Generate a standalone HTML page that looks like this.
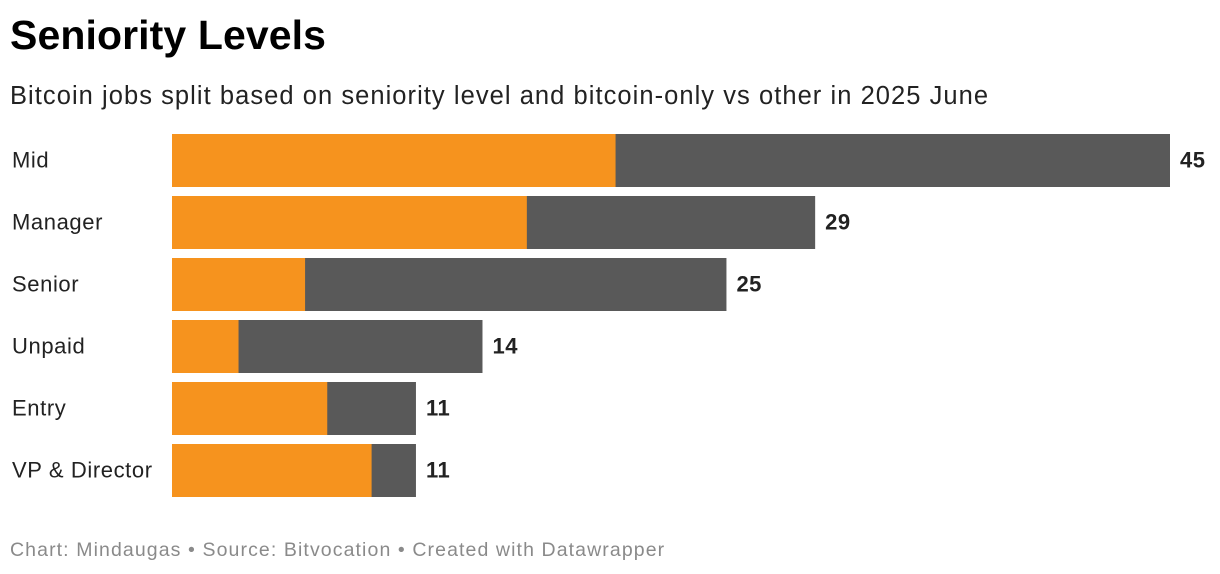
<!DOCTYPE html>
<html><head><meta charset="utf-8">
<style>
body{margin:0;width:1220px;height:574px;background:#fff;font-family:"Liberation Sans",Arial,sans-serif;overflow:hidden;position:relative}
#title{position:absolute;left:10px;top:12px;font-size:41px;font-weight:bold;color:#000;letter-spacing:0.1px}
#sub{position:absolute;left:10px;top:82px;font-size:25.5px;color:#222;letter-spacing:1.05px;white-space:nowrap}
#foot{position:absolute;left:10px;top:539px;font-size:19.5px;color:#8a8a8a;letter-spacing:1.1px;white-space:nowrap}
svg{position:absolute;left:0;top:0}
</style></head><body>
<div id="title">Seniority Levels</div>
<div id="sub">Bitcoin jobs split based on seniority level and bitcoin-only vs other in 2025 June</div>
<svg id="chart" width="1220" height="574"></svg>
<div id="foot">Chart: Mindaugas • Source: Bitvocation • Created with Datawrapper</div>
<script>
const categories=["Mid","Manager","Senior","Unpaid","Entry","VP & Director"];
const bitcoinOnly=[20,16,6,3,7,9];
const totals=[45,29,25,14,11,11];
const svg=document.getElementById('chart');
const NS='http://www.w3.org/2000/svg';
const x0=172,x1=1170,maxV=45;
const xs=v=>x0+v/maxV*(x1-x0);
const ys=i=>134+i*62;
const bh=53;
categories.forEach((c,i)=>{
  const y=ys(i);
  const other=document.createElementNS(NS,'rect');
  other.setAttribute('x',xs(0));other.setAttribute('y',y);
  other.setAttribute('width',xs(totals[i])-xs(0));other.setAttribute('height',bh);
  other.setAttribute('fill','#595959');
  
  
  svg.appendChild(other);
  const btc=document.createElementNS(NS,'rect');
  btc.setAttribute('x',xs(0));btc.setAttribute('y',y);
  btc.setAttribute('width',xs(bitcoinOnly[i])-xs(0));btc.setAttribute('height',bh);
  btc.setAttribute('fill','#f6931e');
  
  
  svg.appendChild(btc);
  const lab=document.createElementNS(NS,'text');
  lab.setAttribute('x',12);lab.setAttribute('y',y+bh/2+7);
  lab.setAttribute('font-size','22');lab.setAttribute('fill','#222');
  lab.setAttribute('letter-spacing','0.6');
  lab.textContent=c;
  
  
  svg.appendChild(lab);
  const val=document.createElementNS(NS,'text');
  val.setAttribute('x',xs(totals[i])+10);val.setAttribute('y',y+bh/2+7);
  val.setAttribute('font-size','22');val.setAttribute('font-weight','bold');val.setAttribute('fill','#222');
  val.setAttribute('letter-spacing','0.5');
  val.textContent=totals[i];
  
  
  svg.appendChild(val);
});
</script>
</body></html>
